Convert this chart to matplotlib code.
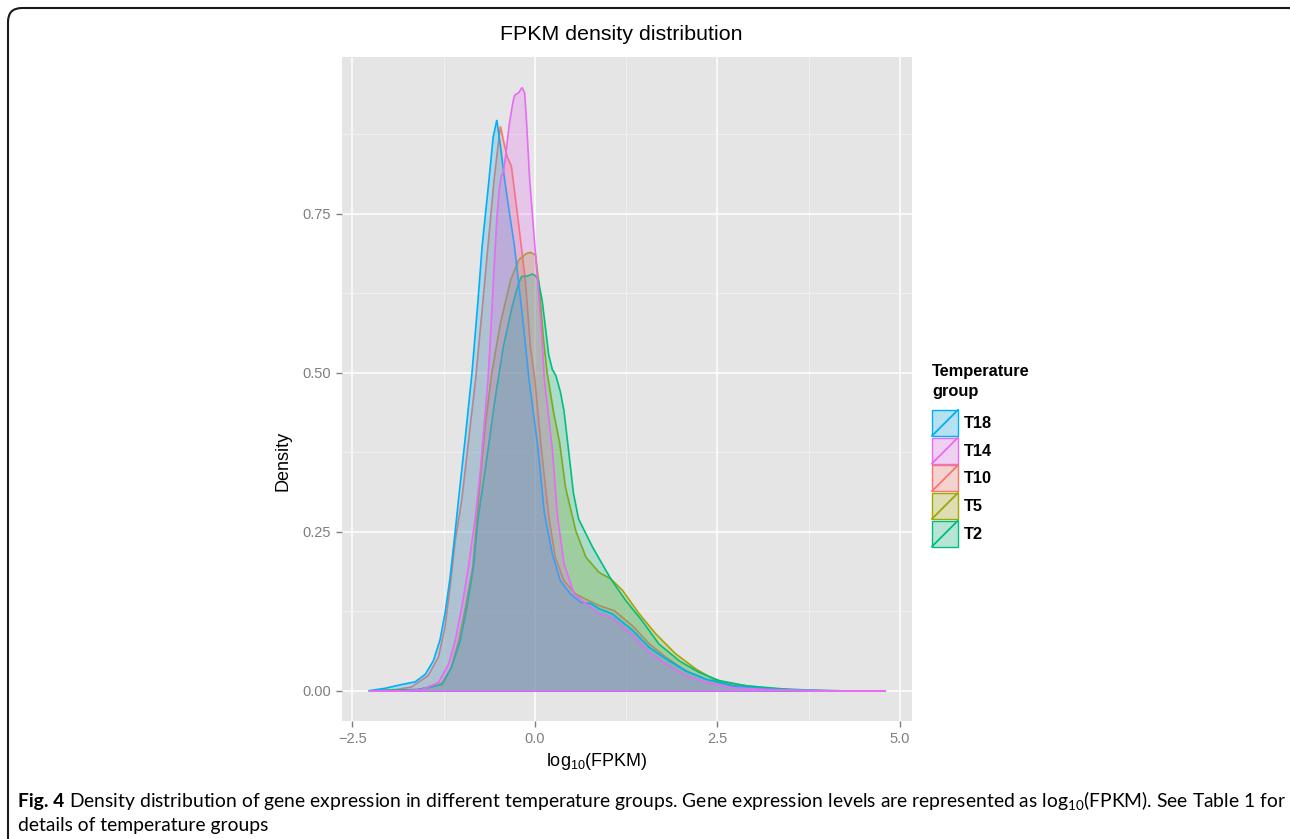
"""
FPKM density distribution per temperature group (ggplot-style recreation)
"""

import matplotlib
matplotlib.use("Agg")
import matplotlib.pyplot as plt
import matplotlib.transforms as mtransforms
from matplotlib.patches import Patch, Rectangle, FancyBboxPatch
from matplotlib.lines import Line2D
from matplotlib.legend_handler import HandlerPatch
from matplotlib.colors import to_rgba

# ---- data (log10 FPKM vs density) ----
groups = ["T18", "T14", "T10", "T5", "T2"]
group_colors = ["#00B0F6", "#E76BF3", "#F8766D", "#A3A500", "#00BF7D"]
draw_order = ["T10", "T5", "T2", "T18", "T14"]

t18_x = [-2.28, -2.05, -1.82, -1.64, -1.50, -1.39, -1.30, -1.23, -1.16, -1.10, -1.04, -0.95,
         -0.86, -0.78, -0.72, -0.63, -0.57, -0.52, -0.47, -0.42, -0.36, -0.28, -0.17, -0.08,
         0.045, 0.13, 0.24, 0.35, 0.49, 0.63, 0.77, 0.88, 1.06, 1.34, 1.57, 1.80, 2.07, 2.35,
         2.71, 3.17, 3.6, 4.2]
t18_y = [0.0, 0.004, 0.010, 0.014, 0.026, 0.047, 0.079, 0.121, 0.178, 0.240, 0.305, 0.40,
         0.50, 0.61, 0.70, 0.80, 0.87, 0.897, 0.856, 0.809, 0.761, 0.70, 0.59, 0.49,
         0.38, 0.28, 0.215, 0.173, 0.152, 0.139, 0.137, 0.129, 0.121, 0.095, 0.068, 0.050, 0.031, 0.018,
         0.008, 0.003, 0.001, 0.0]

t14_x = [-2.26, -1.80, -1.55, -1.32, -1.18, -1.09, -1.00, -0.91, -0.82, -0.75, -0.64, -0.60,
         -0.56, -0.52, -0.49, -0.46, -0.43, -0.40, -0.35, -0.30, -0.275, -0.22, -0.174, -0.14,
         -0.12, -0.07, 0.0, 0.05, 0.10, 0.13, 0.24, 0.31, 0.40, 0.54, 0.70, 0.88, 1.06, 1.34,
         1.57, 1.80, 2.07, 2.35, 2.71, 3.2, 4.0, 4.81]
t14_y = [0.0, 0.0, 0.002, 0.013, 0.042, 0.079, 0.131, 0.194, 0.268, 0.34, 0.49, 0.57,
         0.66, 0.74, 0.785, 0.809, 0.815, 0.84, 0.89, 0.925, 0.936, 0.94, 0.948, 0.94,
         0.908, 0.803, 0.70, 0.63, 0.55, 0.49, 0.38, 0.275, 0.20, 0.152, 0.137, 0.121, 0.115, 0.087,
         0.060, 0.042, 0.024, 0.013, 0.005, 0.002, 0.0, 0.0]

t10_x = [-2.26, -1.90, -1.69, -1.46, -1.32, -1.23, -1.16, -1.09, -1.00, -0.90, -0.81, -0.72,
         -0.64, -0.56, -0.50, -0.47, -0.43, -0.38, -0.32, -0.24, -0.13, -0.06, 0.0, 0.09,
         0.19, 0.28, 0.40, 0.56, 0.70, 0.88, 1.09, 1.34, 1.57, 1.80, 2.07, 2.35, 2.71, 3.17, 3.8]
t10_y = [0.0, 0.002, 0.006, 0.024, 0.053, 0.10, 0.163, 0.236, 0.30, 0.40, 0.49, 0.60,
         0.70, 0.80, 0.86, 0.887, 0.865, 0.84, 0.824, 0.751, 0.646, 0.541, 0.49, 0.38,
         0.275, 0.21, 0.173, 0.152, 0.144, 0.134, 0.126, 0.102, 0.0735, 0.0525, 0.0315, 0.018, 0.008, 0.003, 0.0]

t5_x = [-2.24, -1.60, -1.35, -1.27, -1.15, -1.04, -0.95, -0.85, -0.77, -0.68, -0.59, -0.47,
        -0.33, -0.22, -0.12, -0.06, 0.01, 0.055, 0.12, 0.17, 0.26, 0.34, 0.42, 0.56, 0.70,
        0.88, 1.04, 1.20, 1.43, 1.66, 1.93, 2.21, 2.48, 2.80, 3.17, 3.6, 4.2]
t5_y = [0.0, 0.002, 0.008, 0.012, 0.035, 0.079, 0.131, 0.194, 0.30, 0.415, 0.499, 0.578,
        0.646, 0.677, 0.687, 0.689, 0.685, 0.641, 0.551, 0.499, 0.436, 0.39, 0.32, 0.252, 0.21,
        0.186, 0.176, 0.158, 0.121, 0.089, 0.058, 0.034, 0.016, 0.0095, 0.004, 0.001, 0.0]

t2_x = [-2.22, -1.60, -1.27, -1.14, -1.02, -0.93, -0.84, -0.78, -0.655, -0.54, -0.43, -0.31,
        -0.22, -0.18, -0.10, -0.03, 0.01, 0.046, 0.10, 0.155, 0.19, 0.24, 0.29, 0.35, 0.40,
        0.47, 0.53, 0.60, 0.79, 1.04, 1.245, 1.47, 1.70, 1.98, 2.25, 2.53, 2.89, 3.4, 4.0]
t2_y = [0.0, 0.002, 0.010, 0.037, 0.079, 0.131, 0.194, 0.268, 0.367, 0.462, 0.541, 0.604,
        0.641, 0.651, 0.652, 0.655, 0.652, 0.646, 0.614, 0.562, 0.528, 0.505, 0.495, 0.47, 0.44,
        0.37, 0.31, 0.27, 0.226, 0.176, 0.142, 0.110, 0.0735, 0.047, 0.029, 0.016, 0.008, 0.003, 0.0]

curves = {"T18": (t18_x, t18_y), "T14": (t14_x, t14_y), "T10": (t10_x, t10_y),
          "T5": (t5_x, t5_y), "T2": (t2_x, t2_y)}

x_ticks = [-2.5, 0.0, 2.5, 5.0]
x_tick_labels = ["\u22122.5", "0.0", "2.5", "5.0"]
x_minor = [-1.25, 1.25, 3.75]
y_ticks = [0.0, 0.25, 0.50, 0.75]
y_tick_labels = ["0.00", "0.25", "0.50", "0.75"]
y_minor = [0.125, 0.375, 0.625, 0.875]

title = "FPKM density distribution"
caption_bold = "Fig. 4"
caption_rest = ("Density distribution of gene expression in different temperature groups. "
                "Gene expression levels are represented as log$\\mathregular{_{10}}$(FPKM). See Table 1 for")
caption_line2 = "details of temperature groups"

FILL_ALPHA = 0.25
CHART_FONT = "Liberation Sans"
CAPTION_FONT = "Lato"

W, H = 1290, 839


def fx(px):
    return px / W


def fy(py):
    return 1 - py / H


class KeyHandler(HandlerPatch):
    """ggplot-like legend key: tinted square with a diagonal stroke"""

    def create_artists(self, legend, orig_handle, xdescent, ydescent, width, height, fontsize, trans):
        x0, y0 = -xdescent, -ydescent
        bg = Rectangle((x0, y0), width, height, facecolor="#F2F2F2", edgecolor="none", transform=trans)
        rect = Rectangle((x0, y0), width, height, facecolor=orig_handle.get_facecolor(),
                         edgecolor=orig_handle.get_edgecolor(), lw=1.0, transform=trans)
        diag = Line2D([x0, x0 + width], [y0, y0 + height], color=orig_handle.get_edgecolor(),
                      lw=1.3, transform=trans)
        return [bg, rect, diag]


fig = plt.figure(figsize=(W / 100, H / 100), dpi=100)
fig.patch.set_facecolor("white")

ax = fig.add_axes([fx(342), fy(721), fx(912) - fx(342), fy(57) - fy(721)])
ax.set_facecolor("#E5E5E5")
ax.set_axisbelow(True)

color_of = dict(zip(groups, group_colors))
for name in draw_order:
    xs, ys = curves[name]
    c = color_of[name]
    ax.fill(xs, ys, facecolor=to_rgba(c, FILL_ALPHA), edgecolor=c, lw=1.2)

ax.set_xlim(-2.64, 5.165)
ax.set_ylim(-0.0474, 0.996)

ax.set_xticks(x_ticks)
ax.set_xticklabels(x_tick_labels)
ax.set_xticks(x_minor, minor=True)
ax.set_yticks(y_ticks)
ax.set_yticklabels(y_tick_labels)
ax.set_yticks(y_minor, minor=True)

ax.grid(which="major", color="white", lw=1.1)
ax.grid(which="minor", color="#F2F2F2", lw=0.6)
ax.tick_params(which="minor", length=0)
ax.tick_params(which="major", length=4, width=1.0, color="#7F7F7F", labelcolor="#7F7F7F",
               labelsize=10.5, pad=4)
for lab in ax.get_xticklabels() + ax.get_yticklabels():
    lab.set_family(CHART_FONT)
for s in ax.spines.values():
    s.set_visible(False)

fig.text(fx(621), fy(34), title, ha="center", va="center", fontsize=15.4, family=CHART_FONT)
fig.text(fx(283), fy(461), "Density", rotation=90, ha="center", va="center", fontsize=13,
         family=CHART_FONT)
fig.text(fx(597), fy(766), "log$\\mathregular{_{10}}$(FPKM)", ha="center", va="baseline",
         fontsize=13, family=CHART_FONT)

# legend: 26 px keys stacked almost edge to edge
LEG_FS = 11.8
key_pt = 26 * 72 / 100
# matplotlib trims 0.35*fs*(hh-0.7) off the handle box, so solve for the drawn height
key_hh = (key_pt / LEG_FS - 0.245) / 0.65
handles = [Patch(facecolor=to_rgba(color_of[g], FILL_ALPHA), edgecolor=color_of[g]) for g in groups]
leg = fig.legend(handles, groups, loc="upper left", bbox_to_anchor=(fx(932), fy(364)),
                 bbox_transform=fig.transFigure, frameon=False, handler_map={Patch: KeyHandler()},
                 handlelength=key_pt / LEG_FS, handleheight=key_hh,
                 handletextpad=4.3 / LEG_FS, labelspacing=1.2 / LEG_FS,
                 borderpad=0, borderaxespad=0, title="Temperature\ngroup", alignment="left",
                 title_fontproperties={"weight": "bold", "size": LEG_FS, "family": CHART_FONT},
                 prop={"weight": "bold", "size": LEG_FS, "family": CHART_FONT})
leg.get_title().set_linespacing(1.44)
leg._legend_box.sep = 7.6

# caption, sized so the first line spans the frame width
t_bold = fig.text(fx(18), fy(807), caption_bold, fontweight="bold", family=CAPTION_FONT, va="baseline")
t_rest = fig.text(fx(18), fy(807), caption_rest, family=CAPTION_FONT, va="baseline")
t_two = fig.text(fx(18), fy(831), caption_line2, family=CAPTION_FONT, va="baseline")


def place_caption(fs):
    for t in (t_bold, t_rest, t_two):
        t.set_fontsize(fs)
    r = fig.canvas.get_renderer()
    bb = t_bold.get_window_extent(r)
    t_rest.set_x((bb.x1 + fs * 100 / 72 * 0.26) / W)
    return t_rest.get_window_extent(r).x1


fs = 12.0
right = place_caption(fs)
fs *= (1280 - 18) / (right - 18)
right = place_caption(fs)
fs *= (1280 - 18) / (right - 18)
place_caption(fs)

# rounded outer frame, in pixel coordinates (right and bottom edges run off the image)
frame = FancyBboxPatch((8, -30), 1304 - 8, (H - 8) + 30, boxstyle="round,pad=0,rounding_size=14",
                       facecolor="none", edgecolor="#1A1A1A", lw=1.5,
                       transform=mtransforms.IdentityTransform(), clip_on=False)
fig.add_artist(frame)

fig.savefig("out.png", dpi=100)
